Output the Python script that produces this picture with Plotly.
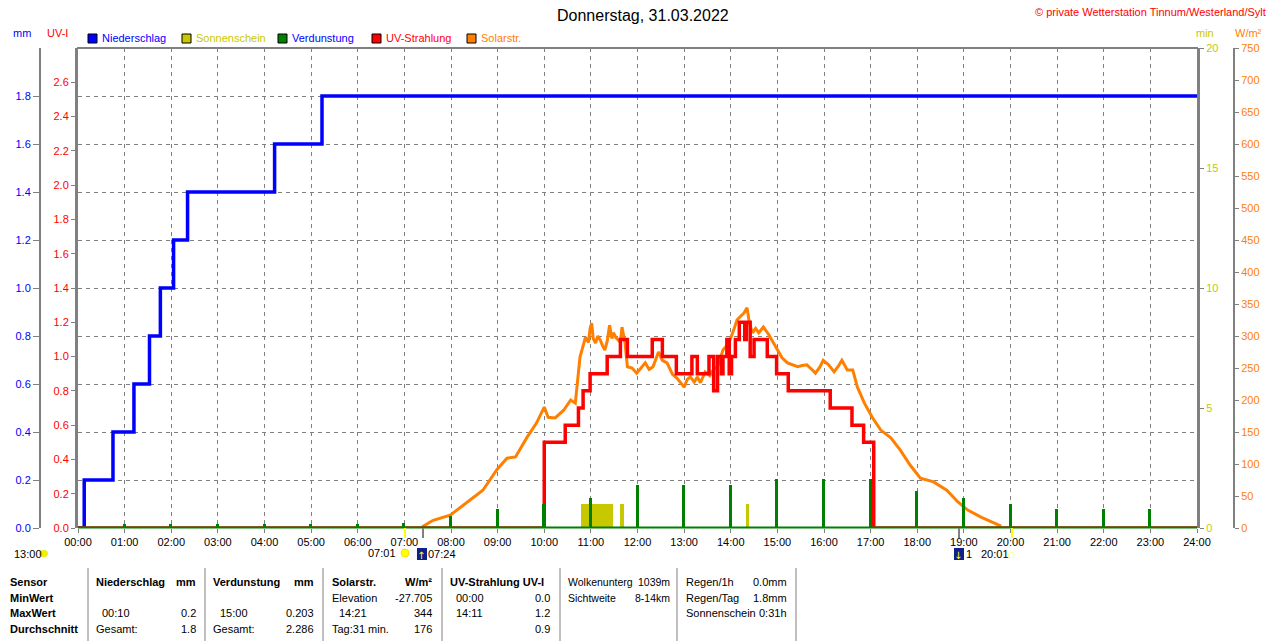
import plotly.graph_objects as go

# ---------------- data ----------------
hour_ticks = list(range(25))
hour_labels = [f"{h:02d}:00" for h in hour_ticks]

precip_time = ["00:00", "00:08", "00:45", "01:12", "01:32", "01:46", "02:03", "02:21", "04:13", "05:14", "24:00"]
precip_mm = [0.0, 0.2, 0.4, 0.6, 0.8, 1.0, 1.2, 1.4, 1.6, 1.8, 1.8]

uv_time = ["00:00", "10:00", "10:27", "10:44", "10:50", "10:59", "11:21", "11:38", "11:47", "12:19", "12:32",
           "12:50", "13:10", "13:17", "13:32", "13:38", "13:43", "13:48", "13:50", "13:55", "13:58", "14:01",
           "14:06", "14:11", "14:18", "14:20", "14:25", "14:30", "14:47", "14:59", "15:14", "16:08", "16:36",
           "16:51", "17:04", "24:00"]
uv_index = [0.0, 0.5, 0.6, 0.7, 0.8, 0.9, 1.0, 1.1, 1.0, 1.1, 1.0,
            0.9, 1.0, 0.9, 1.0, 0.8, 1.0, 0.9, 1.0, 1.1, 0.9, 1.0,
            1.1, 1.2, 1.1, 1.2, 1.0, 1.1, 1.0, 0.9, 0.8, 0.7, 0.6,
            0.5, 0.0, 0.0]

solar_time = ["07:23", "07:37", "07:59", "08:20", "08:41", "08:59", "09:12", "09:23", "09:38", "09:50", "10:00",
              "10:05", "10:14", "10:25", "10:34", "10:40", "10:42", "10:46", "10:53", "10:57", "10:59", "11:01",
              "11:03", "11:06", "11:09", "11:12", "11:15", "11:18", "11:21", "11:24", "11:27", "11:29", "11:32",
              "11:35", "11:38", "11:40", "11:42", "11:44", "11:47", "11:53", "11:59", "12:05", "12:10", "12:15",
              "12:20", "12:27", "12:32", "12:38", "12:45", "12:51", "13:00", "13:04", "13:08", "13:13", "13:17",
              "13:21", "13:27", "13:33", "13:38", "13:43", "13:47", "13:50", "13:55", "13:59", "14:04", "14:08",
              "14:12", "14:17", "14:21", "14:24", "14:28", "14:32", "14:36", "14:42", "14:49", "14:55", "15:00",
              "15:06", "15:13", "15:20", "15:26", "15:32", "15:38", "15:44", "15:49", "15:55", "15:59", "16:06",
              "16:13", "16:18", "16:23", "16:30", "16:37", "16:43", "16:52", "17:02", "17:13", "17:26", "17:38",
              "17:51", "18:04", "18:21", "18:38", "18:52", "19:05", "19:22", "19:38", "19:48"]
solar_wm2 = [2, 12, 20, 39, 59, 91, 109, 111, 142, 164, 189,
             173, 172, 184, 200, 195, 216, 267, 298, 290, 312, 320,
             296, 289, 300, 294, 285, 278, 292, 317, 296, 305, 298,
             294, 290, 314, 300, 289, 252, 250, 242, 250, 258, 248,
             252, 275, 262, 258, 240, 234, 220, 232, 236, 228, 236,
             227, 244, 238, 248, 252, 265, 278, 285, 294, 310, 325,
             330, 336, 344, 320, 305, 312, 305, 314, 302, 290, 278,
             266, 258, 255, 252, 254, 255, 248, 242, 252, 262, 255,
             244, 252, 262, 247, 247, 220, 195, 173, 153, 141, 122,
             98, 78, 72, 59, 41, 28, 17, 9, 3]

sun_start = ["10:47", "11:37", "14:19"]
sun_end = ["11:29", "11:43", "14:24"]
sun_min = [1.0, 1.0, 1.0]

evap_time = ["01:00", "02:00", "03:00", "04:00", "05:00", "06:00", "07:00", "08:00", "09:00", "10:00", "11:00",
             "12:00", "13:00", "14:00", "15:00", "16:00", "17:00", "18:00", "19:00", "20:00", "21:00", "22:00",
             "23:00"]
evap_mm = [0.015, 0.015, 0.015, 0.015, 0.015, 0.015, 0.02, 0.05, 0.08, 0.10, 0.125,
           0.18, 0.18, 0.18, 0.203, 0.203, 0.203, 0.155, 0.125, 0.10, 0.08, 0.08,
           0.08]

mm_ticks = [0.0, 0.2, 0.4, 0.6, 0.8, 1.0, 1.2, 1.4, 1.6, 1.8]
uv_ticks = [0.0, 0.2, 0.4, 0.6, 0.8, 1.0, 1.2, 1.4, 1.6, 1.8, 2.0, 2.2, 2.4, 2.6]
min_ticks = [0, 5, 10, 15, 20]
wm2_ticks = list(range(0, 751, 50))


def to_h(s):
    h, m = s.split(":")
    return int(h) + int(m) / 60.0


# ---------------- layout helpers ----------------
W, H = 1280, 641


def px(x):
    return x / W


def py(y):
    return 1 - y / H


FONT = "Liberation Sans, Arial, sans-serif"
GRAY = "#808080"
BLUE = "#0000ff"
RED = "#ff0000"
OLIVE = "#c8c800"
ORANGE = "#ff8000"
GREEN = "#008000"

fig = go.Figure()

# precipitation (mm axis, main)
fig.add_trace(go.Scatter(x=[to_h(t) for t in precip_time], y=precip_mm, mode="lines",
                         line=dict(color=BLUE, width=3.5, shape="hv"), yaxis="y", hoverinfo="skip"))
# solar radiation
fig.add_trace(go.Scatter(x=[to_h(t) for t in solar_time], y=solar_wm2, mode="lines",
                         line=dict(color=ORANGE, width=3), yaxis="y2", hoverinfo="skip"))
# sunshine
sx = [(to_h(a) + to_h(b)) / 2 for a, b in zip(sun_start, sun_end)]
sw = [to_h(b) - to_h(a) for a, b in zip(sun_start, sun_end)]
fig.add_trace(go.Bar(x=sx, y=sun_min, width=sw, marker=dict(color=OLIVE, line=dict(width=0)),
                     yaxis="y3", hoverinfo="skip"))
# UV
fig.add_trace(go.Scatter(x=[to_h(t) for t in uv_time], y=uv_index, mode="lines",
                         line=dict(color=RED, width=3.5, shape="hv"), yaxis="y4", hoverinfo="skip"))
# evaporation
fig.add_trace(go.Bar(x=[to_h(t) - 0.01 for t in evap_time], y=evap_mm, width=0.065,
                     marker=dict(color=GREEN, line=dict(width=0)), yaxis="y5", hoverinfo="skip"))

dom_x = [px(78), px(1197)]
dom_y = [py(528), py(48)]

fig.update_layout(
    width=W, height=H, margin=dict(l=0, r=0, t=0, b=0),
    paper_bgcolor="white", plot_bgcolor="white", showlegend=False, barmode="overlay",
    bargap=0, hovermode=False,
    xaxis=dict(domain=dom_x, range=[0, 24], tickvals=hour_ticks, ticktext=hour_labels,
               tickfont=dict(family=FONT, size=11, color="black"), ticks="outside", ticklen=4,
               tickcolor=GRAY, showgrid=True, gridcolor=GRAY, griddash="4px,4px", gridwidth=1,
               zeroline=False, showline=False, anchor="y", automargin=False, fixedrange=True),
    yaxis=dict(domain=dom_y, range=[0, 2.0], tickvals=mm_ticks, tickformat=".1f",
               tickfont=dict(family=FONT, size=11, color=BLUE), ticks="outside", ticklen=6,
               tickcolor=GRAY, showgrid=True, gridcolor=GRAY, griddash="4px,4px", gridwidth=1,
               zeroline=False, showline=True, linecolor=GRAY, linewidth=2,
               anchor="free", position=px(40), side="left", automargin=False),
    yaxis2=dict(range=[0, 750], tickvals=wm2_ticks, overlaying="y", side="right", anchor="free",
                position=px(1234), tickfont=dict(family=FONT, size=11, color=ORANGE), ticks="outside",
                ticklen=4, tickcolor=GRAY, showline=True, linecolor=GRAY, linewidth=2, showgrid=False,
                zeroline=False, automargin=False),
    yaxis3=dict(range=[0, 20], tickvals=min_ticks, overlaying="y", side="right", anchor="x",
                tickfont=dict(family=FONT, size=11, color=OLIVE), ticks="outside", ticklen=4,
                tickcolor=GRAY, showline=True, linecolor=GRAY, linewidth=3, showgrid=False,
                zeroline=False, automargin=False),
    yaxis4=dict(range=[0, 2.8], tickvals=uv_ticks, tickformat=".1f", overlaying="y", side="left",
                anchor="x", tickfont=dict(family=FONT, size=11, color=RED), ticks="outside", ticklen=4,
                tickcolor=GRAY, showline=True, linecolor=GRAY, linewidth=3, showgrid=False,
                zeroline=False, automargin=False),
    yaxis5=dict(range=[0, 2.0], overlaying="y", visible=False, showgrid=False, zeroline=False),
)

shapes = []
# plot border
shapes.append(dict(type="line", xref="paper", yref="paper", x0=px(77), x1=px(1198), y0=py(48), y1=py(48),
                   line=dict(color=GRAY, width=2)))
# green base line
shapes.append(dict(type="line", xref="paper", yref="paper", x0=px(78), x1=px(1197), y0=py(527.5), y1=py(527.5),
                   line=dict(color=GREEN, width=2)))
# sunrise/sunset markers on the axis
for xx, col in [(405, "#ffff00"), (423, GRAY), (959, GRAY), (1012, "#ffff00")]:
    shapes.append(dict(type="line", xref="paper", yref="paper", x0=px(xx), x1=px(xx), y0=py(528), y1=py(538),
                       line=dict(color=col, width=2)))
# icons (navy boxes)
for xx in [417, 954]:
    shapes.append(dict(type="rect", xref="paper", yref="paper", x0=px(xx), x1=px(xx + 10), y0=py(560), y1=py(548),
                       fillcolor="#10208a", line=dict(width=0)))
# sun icon
shapes.append(dict(type="circle", xref="paper", yref="paper", x0=px(401), x1=px(409), y0=py(557), y1=py(549),
                   fillcolor="#ffff00", line=dict(color="#ffe000", width=1)))
# cloud icon
shapes.append(dict(type="circle", xref="paper", yref="paper", x0=px(39), x1=px(48), y0=py(557), y1=py(550),
                   fillcolor="#f0f000", line=dict(width=0)))
# legend squares
legend_names = ["Niederschlag", "Sonnenschein", "Verdunstung", "UV-Strahlung", "Solarstr."]
legend_colors = [BLUE, OLIVE, GREEN, RED, ORANGE]
legend_text_colors = [BLUE, OLIVE, BLUE, RED, ORANGE]
legend_x = [88, 182, 278, 372, 467]
for lx, c in zip(legend_x, legend_colors):
    shapes.append(dict(type="rect", xref="paper", yref="paper", x0=px(lx), x1=px(lx + 9), y0=py(43), y1=py(34),
                       fillcolor=c, line=dict(color="black", width=1)))
# table separators
for xx in [88, 205, 323, 442, 560, 677, 796]:
    shapes.append(dict(type="line", xref="paper", yref="paper", x0=px(xx), x1=px(xx), y0=py(568), y1=py(641),
                       line=dict(color=GRAY, width=1)))

anns = []


def txt(x, y, s, color="black", size=11, anchor="left", bold=False, family=FONT):
    anns.append(dict(x=px(x), y=py(y), xref="paper", yref="paper", text=("<b>%s</b>" % s) if bold else s,
                     showarrow=False, xanchor=anchor, yanchor="middle",
                     font=dict(family=family, size=size, color=color)))


txt(643, 15, "Donnerstag, 31.03.2022", size=16, anchor="center")
txt(1268, 12, "© private Wetterstation Tinnum/Westerland/Sylt", color=RED, size=11, anchor="right")
txt(22, 33, "mm", color=BLUE, anchor="center")
txt(57, 33, "UV-I", color=RED, anchor="center")
txt(1205, 33, "min", color=OLIVE, anchor="center")
txt(1248, 33, "W/m²", color=ORANGE, anchor="center")
for lx, name, c in zip(legend_x, legend_names, legend_text_colors):
    txt(lx + 12, 38, name, color=c)

# bottom markers
txt(12, 554, "13:00")
txt(398, 553, "07:01", anchor="right")
txt(421, 555, "↑", color="#ffff00", size=10, family="DejaVu Sans", anchor="center")
txt(426, 554, "07:24")
txt(958, 555, "↓", color="#ffff00", size=10, family="DejaVu Sans", anchor="center")
txt(964, 554, "1")
txt(979, 554, "20:01")
txt(1011, 554, "○", color="#ffff00", size=8, family="DejaVu Sans", anchor="center")

# table
rows_y = [582, 598, 613, 629]
txt(8, rows_y[0], "Sensor", bold=True)
txt(8, rows_y[1], "MinWert", bold=True)
txt(8, rows_y[2], "MaxWert", bold=True)
txt(8, rows_y[3], "Durchschnitt", bold=True)

txt(94, rows_y[0], "Niederschlag", bold=True)
txt(198, rows_y[0], "mm", bold=True, anchor="right")
txt(100, rows_y[2], "00:10")
txt(198, rows_y[2], "0.2", anchor="right")
txt(94, rows_y[3], "Gesamt:")
txt(198, rows_y[3], "1.8", anchor="right")

txt(211, rows_y[0], "Verdunstung", bold=True)
txt(316, rows_y[0], "mm", bold=True, anchor="right")
txt(218, rows_y[2], "15:00")
txt(316, rows_y[2], "0.203", anchor="right")
txt(211, rows_y[3], "Gesamt:")
txt(316, rows_y[3], "2.286", anchor="right")

txt(330, rows_y[0], "Solarstr.", bold=True)
txt(434, rows_y[0], "W/m²", bold=True, anchor="right")
txt(330, rows_y[1], "Elevation")
txt(434, rows_y[1], "-27.705", anchor="right")
txt(337, rows_y[2], "14:21")
txt(434, rows_y[2], "344", anchor="right")
txt(330, rows_y[3], "Tag:31 min.")
txt(434, rows_y[3], "176", anchor="right")

txt(448, rows_y[0], "UV-Strahlung UV-I", bold=True)
txt(454, rows_y[1], "00:00")
txt(552, rows_y[1], "0.0", anchor="right")
txt(454, rows_y[2], "14:11")
txt(552, rows_y[2], "1.2", anchor="right")
txt(552, rows_y[3], "0.9", anchor="right")

txt(566, rows_y[0], "Wolkenunterg", size=10.5)
txt(672, rows_y[0], "1039m", anchor="right", size=10.5)
txt(566, rows_y[1], "Sichtweite", size=10.5)
txt(672, rows_y[1], "8-14km", anchor="right", size=10.5)

txt(684, rows_y[0], "Regen/1h")
txt(789, rows_y[0], "0.0mm", anchor="right")
txt(684, rows_y[1], "Regen/Tag")
txt(789, rows_y[1], "1.8mm", anchor="right")
txt(684, rows_y[2], "Sonnenschein")
txt(789, rows_y[2], "0:31h", anchor="right")

fig.update_layout(shapes=shapes, annotations=anns)
fig.write_html("out.html", config={"displayModeBar": False, "staticPlot": True},
               post_script="document.body.style.margin='0';document.body.style.overflow='hidden';")
